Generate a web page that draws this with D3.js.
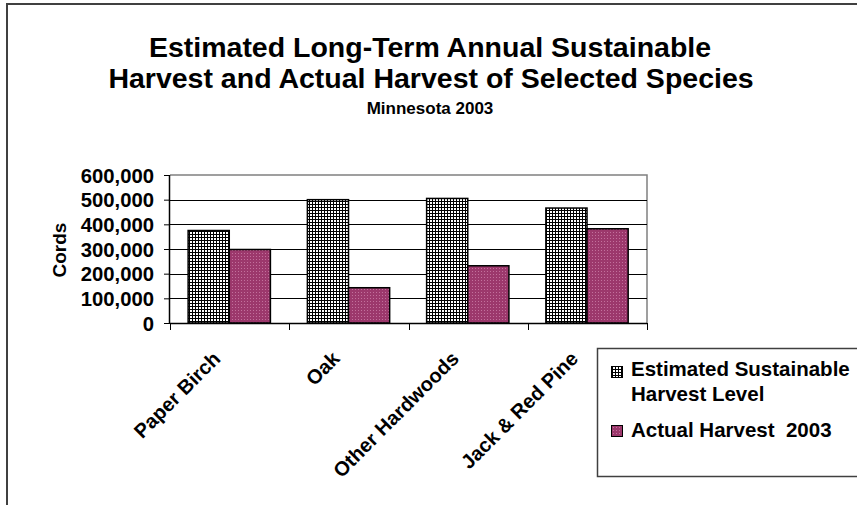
<!DOCTYPE html>
<html><head><meta charset="utf-8">
<script src="https://cdn.jsdelivr.net/npm/d3@7"></script>
<style>
html,body{margin:0;padding:0;background:#fff;}
text{font-family:"Liberation Sans",Arial,sans-serif;font-weight:bold;fill:#000;}
</style></head>
<body><svg id="chart" width="857" height="505"></svg>
<script>
// ---- data ----
const categories = ["Paper Birch", "Oak", "Other Hardwoods", "Jack & Red Pine"];
const seriesNames = ["Estimated Sustainable Harvest Level", "Actual Harvest  2003"];
const sustainable = [375000, 500000, 505000, 466000];
const actual = [298000, 143000, 232000, 382000];
const yTicks = [0, 100000, 200000, 300000, 400000, 500000, 600000];
const titleLines = ["Estimated Long-Term Annual Sustainable", "Harvest and Actual Harvest of Selected Species"];
const subtitle = "Minnesota 2003";
const yAxisTitle = "Cords";
const legendLines = [["Estimated Sustainable", "Harvest Level"], ["Actual Harvest  2003"]];

const svg = d3.select("#chart");
svg.append("rect").attr("width", 857).attr("height", 505).attr("fill", "#fff");

// patterns
const defs = svg.append("defs");
const p1 = defs.append("pattern").attr("id", "patEst").attr("patternUnits", "userSpaceOnUse").attr("width", 3).attr("height", 3);
p1.append("rect").attr("width", 3).attr("height", 3).attr("fill", "#fff");
p1.append("rect").attr("width", 3).attr("height", 1).attr("fill", "#000");
p1.append("rect").attr("width", 1).attr("height", 3).attr("fill", "#000");
const p2 = defs.append("pattern").attr("id", "patAct").attr("patternUnits", "userSpaceOnUse").attr("width", 3).attr("height", 3);
p2.append("rect").attr("width", 3).attr("height", 3).attr("fill", "#9c386c");
p2.append("rect").attr("x", 1).attr("y", 1).attr("width", 1).attr("height", 1).attr("fill", "#c2709c");
const fills = ["url(#patEst)", "url(#patAct)"];

// outer frame
svg.append("path").attr("d", "M7,505V4H857").attr("fill", "none").attr("stroke", "#404040").attr("stroke-width", 2);

// titles
svg.append("text").attr("x", 430).attr("y", 57).attr("text-anchor", "middle").style("font-size", "28.5px").text(titleLines[0]);
svg.append("text").attr("x", 431).attr("y", 88).attr("text-anchor", "middle").style("font-size", "28.5px").text(titleLines[1]);
svg.append("text").attr("x", 430).attr("y", 114).attr("text-anchor", "middle").style("font-size", "17px").text(subtitle);

// scales
const plot = {l: 170, r: 647, t: 175, b: 323};
const y = d3.scaleLinear().domain([0, 600000]).range([plot.b, plot.t]);
const x = d3.scaleBand().domain(categories).range([plot.l, plot.r]).padding(0);
const bw = x.bandwidth();
const x1 = d3.scaleBand().domain([0, 1]).range([bw * 0.152, bw * 0.842]).padding(0);

// plot border (top/right gray)
svg.append("path").attr("d", `M${plot.l},${plot.t}H${plot.r}V${plot.b}`).attr("fill", "none").attr("stroke", "#808080").attr("stroke-width", 1.5);

// gridlines
svg.append("g").selectAll("line").data(yTicks.filter(d => d > 0 && d < 600000)).join("line")
  .attr("x1", plot.l).attr("x2", plot.r).attr("y1", d => Math.round(y(d)) + 0.5).attr("y2", d => Math.round(y(d)) + 0.5)
  .attr("stroke", "#000").attr("stroke-width", 1);

// bars
const series = [sustainable, actual];
const g = svg.append("g");
categories.forEach((c, i) => {
  series.forEach((s, j) => {
    g.append("rect")
      .attr("x", x(c) + x1(j)).attr("width", x1.bandwidth())
      .attr("y", y(s[i])).attr("height", y(0) - y(s[i]))
      .attr("fill", fills[j]).attr("stroke", "#000").attr("stroke-width", 1.5);
  });
});

// y axis
const yAxis = svg.append("g").attr("transform", `translate(${plot.l},0)`)
  .call(d3.axisLeft(y).tickValues(yTicks).tickSize(6).tickPadding(10).tickFormat(d3.format(",")));
yAxis.select(".domain").attr("stroke", "#000").attr("stroke-width", 1.5).attr("d", `M-0.5,${plot.t}V${plot.b + 1}`);
yAxis.selectAll(".tick line").attr("stroke", "#000");
yAxis.selectAll(".tick text").attr("font-family", null).style("font-size", "19.5px").attr("fill", "#000").attr("dy", "0.36em");
yAxis.selectAll(".tick text").each(function () {
  const w = this.getComputedTextLength();
  d3.select(this).attr("textLength", w * 1.04).attr("lengthAdjust", "spacingAndGlyphs");
});
yAxis.attr("font-size", null);

// x axis
svg.append("line").attr("x1", plot.l).attr("x2", plot.r).attr("y1", plot.b + 0.5).attr("y2", plot.b + 0.5).attr("stroke", "#000").attr("stroke-width", 1.5);
const edges = categories.map(c => x(c)).concat([plot.r]);
svg.append("g").selectAll("line").data(edges).join("line")
  .attr("x1", d => Math.round(d) + 0.5).attr("x2", d => Math.round(d) + 0.5).attr("y1", plot.b).attr("y2", plot.b + 7)
  .attr("stroke", "#000").attr("stroke-width", 1);
svg.append("g").selectAll("text").data(categories).join("text")
  .attr("transform", d => `translate(${x(d) + bw / 2 - 8},${plot.b + 37}) rotate(-45)`)
  .attr("text-anchor", "end").style("font-size", "20px").text(d => d);

// y axis title
svg.append("text").attr("transform", `translate(66,250) rotate(-90)`).attr("text-anchor", "middle").style("font-size", "19px").text(yAxisTitle);

// legend
const lg = svg.append("g");
lg.append("rect").attr("x", 597.5).attr("y", 348.5).attr("width", 300).attr("height", 128).attr("fill", "#fff").attr("stroke", "#404040").attr("stroke-width", 1.5);
const markerY = [366, 425];
const textY = [[376, 401], [437]];
legendLines.forEach((lines, j) => {
  lg.append("rect").attr("x", 611.5).attr("y", markerY[j] + 0.5).attr("width", 11).attr("height", 11)
    .attr("fill", fills[j]).attr("stroke", "#000").attr("stroke-width", 1);
  lines.forEach((t, k) => {
    lg.append("text").attr("x", 631).attr("y", textY[j][k]).style("font-size", "20.5px").style("white-space", "pre").text(t);
  });
});
</script></body></html>
